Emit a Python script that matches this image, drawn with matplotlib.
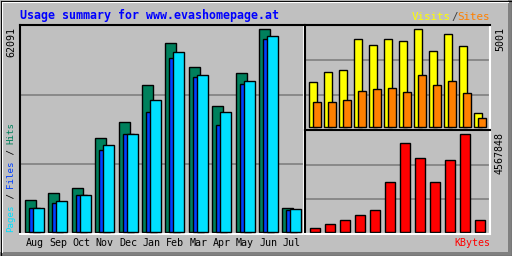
import matplotlib
matplotlib.use("Agg")
import matplotlib.pyplot as plt
from matplotlib.patches import Rectangle

# Usage summary values
months = ["Aug", "Sep", "Oct", "Nov", "Dec", "Jan", "Feb", "Mar", "Apr", "May", "Jun", "Jul"]
hits = [9710, 11950, 13390, 28700, 33600, 44940, 57800, 50450, 38500, 48700, 62091, 7260]
files = [7260, 8880, 11240, 25020, 29920, 36760, 53200, 47480, 32680, 45240, 59020, 6650]
pages = [7250, 9500, 11240, 26650, 29920, 40340, 55040, 48000, 36660, 46160, 60030, 6950]
visits = [2312, 2822, 2909, 4491, 4200, 4491, 4389, 5001, 3878, 4746, 4133, 714]
sites = [1293, 1293, 1395, 1854, 1956, 2007, 1803, 2670, 2160, 2364, 1752, 476]
kbytes = [186000, 388000, 575000, 808000, 1040000, 2330000, 4148000, 3465000, 2330000, 3371000, 4567848, 575000]

W, H = 512, 256
BG = "#c0c0c0"
GRID = "#808080"
MONO = "DejaVu Sans Mono"

fig = plt.figure(figsize=(W / 100, H / 100), dpi=100, facecolor=BG)

# full-figure canvas in pixel coordinates for frame and labels
canvas = fig.add_axes([0, 0, 1, 1])
canvas.set_xlim(0, W)
canvas.set_ylim(H, 0)
canvas.axis("off")
canvas.add_patch(Rectangle((508, 0), 4, H, color="#808080", lw=0))
canvas.add_patch(Rectangle((0, 252), W, 4, color="#808080", lw=0))
canvas.plot([0.5, 0.5, W - 0.5, W - 0.5, 0.5], [0.5, H - 0.5, H - 0.5, 0.5, 0.5], color="black", lw=0.8)
canvas.plot([1.5, 1.5], [1.5, 252], color="white", lw=0.8)
canvas.plot([1.5, 508], [1.5, 1.5], color="white", lw=0.8)


def panel(x0, y0, x1, y1):
    ax = fig.add_axes([x0 / W, 1 - y1 / H, (x1 - x0) / W, (y1 - y0) / H])
    ax.set_facecolor(BG)
    ax.set_xticks([])
    ax.set_yticks([])
    for side in ["top", "left"]:
        ax.spines[side].set_color("black")
        ax.spines[side].set_linewidth(1.5)
    for side in ["bottom", "right"]:
        ax.spines[side].set_color("white")
        ax.spines[side].set_linewidth(1.5)
    for f in (1 / 3, 2 / 3):
        ax.plot([0, 1], [f, f], transform=ax.transAxes, color=GRID, lw=1.2, zorder=0.5)
    return ax


def mtext(x, y, parts, pitch, size, rotation=0, weight="normal"):
    # draw multi-coloured monospace text piece by piece
    pos = 0
    for txt, col in parts:
        if rotation == 90:
            canvas.text(x, y - pos * pitch, txt, color=col, fontsize=size, family=MONO,
                        rotation=90, ha="center", va="bottom", weight=weight)
        else:
            canvas.text(x + pos * pitch, y, txt, color=col, fontsize=size, family=MONO,
                        ha="left", va="center", weight=weight)
        pos += len(txt)


x = list(range(len(months)))

# main panel: hits / files / pages
ax1 = panel(20, 25, 304, 234)
ax1.set_xlim(-0.214, 11.92)
m = max(hits)
ax1.set_ylim(-m * 0.0099, m * 1.021)
ax1.bar(x, hits, width=0.47, align="edge", color="#00805c", edgecolor="black", lw=1, zorder=2)
ax1.bar([i + 0.17 for i in x], files, width=0.47, align="edge", color="#0040ff", edgecolor="black", lw=1, zorder=3)
ax1.bar([i + 0.34 for i in x], pages, width=0.47, align="edge", color="#00e0ff", edgecolor="black", lw=1, zorder=4)

# visits / sites panel
ax2 = panel(305, 25, 490, 129.5)
ax2.set_xlim(-0.287, 12.05)
m = max(visits)
ax2.set_ylim(-m * 0.022, m * 1.044)
ax2.bar(x, visits, width=0.5, align="edge", color="#ffff00", edgecolor="black", lw=1, zorder=2)
ax2.bar([i + 0.27 for i in x], sites, width=0.5, align="edge", color="#ff8000", edgecolor="black", lw=1, zorder=3)

# kbytes panel
ax3 = panel(305, 130, 490, 234)
ax3.set_xlim(-0.287, 12.05)
m = max(kbytes)
ax3.set_ylim(-m * 0.0173, m * 1.044)
ax3.bar([i + 0.067 for i in x], kbytes, width=0.62, align="edge", color="#ff0000", edgecolor="black", lw=1, zorder=2)

# labels
canvas.text(20, 15, "Usage summary for www.evashomepage.at", color="#0000ff", fontsize=8.4,
            family=MONO, weight="bold", ha="left", va="center")
mtext(412, 17, [("Visits", "#ffff00"), ("/", "#404040"), ("Sites", "#ff8000")], 6.5, 7.8)
mtext(454, 243, [("KBytes", "#ff0000")], 6.0, 7.2)
for i, mon in enumerate(months):
    canvas.text(34.5 + 23.4 * i, 243, mon, color="black", fontsize=7.2, family=MONO, ha="center", va="center")

canvas.text(11, 27, str(max(hits)), color="black", fontsize=7.2, family=MONO, rotation=90, ha="center", va="top")
canvas.text(500, 27, str(max(visits)), color="black", fontsize=7.2, family=MONO, rotation=90, ha="center", va="top")
canvas.text(500, 132, str(max(kbytes)), color="black", fontsize=7.2, family=MONO, rotation=90, ha="center", va="top")
mtext(11, 232, [("Pages", "#00e0ff"), (" / ", "black"), ("Files", "#0040ff"), (" / ", "black"), ("Hits", "#00805c")], 5.5, 6.6, rotation=90)

fig.savefig("out.png", dpi=100, facecolor=BG)
